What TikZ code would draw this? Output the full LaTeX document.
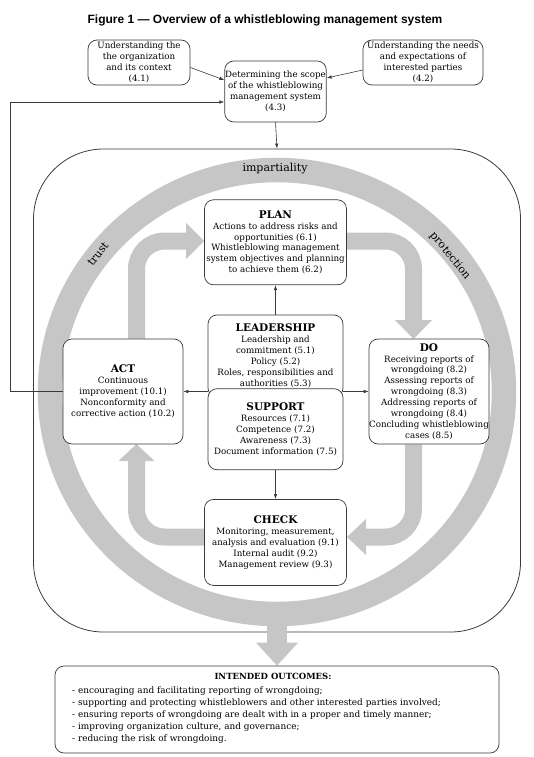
\documentclass[tikz,border=0pt]{standalone}
\usepackage{fontspec}
\setmainfont{DejaVu Serif}
\newfontfamily\titlefont{Liberation Sans}
\usetikzlibrary{positioning,arrows.meta,backgrounds}
\definecolor{ringgray}{HTML}{C6C6C6}
\definecolor{linegray}{HTML}{3A3A3A}
\newcommand\hdr[1]{{\fontsize{10.5}{12}\selectfont\bfseries #1}}

\begin{document}
\begin{tikzpicture}[x=1pt,y=-1pt,font=\fontsize{8.7}{10.9}\selectfont,
  box/.style={draw=linegray,line width=0.7pt,rounded corners=9pt,fill=white,align=center,inner sep=0.5pt},
  link/.style={draw=linegray,line width=0.6pt,-{Latex[length=5pt,width=3.5pt]}},
  band/.style={ringgray,line width=17pt,rounded corners=28pt}]
\useasboundingbox (0,0) rectangle (533,757);
\node[font=\titlefont\bfseries\fontsize{12}{14}\selectfont] (title) at (265,20) {Figure 1 — Overview of a whistleblowing management system};

% frame and ring
\begin{scope}[on background layer]
\node[draw=linegray,line width=0.8pt,rounded corners=70pt,minimum width=487pt,minimum height=483pt] (sys) at (277,390.5) {};
\draw[ringgray,line width=24.5pt] (277,392) ellipse [x radius=227pt,y radius=222pt];
\end{scope}
\node[font=\fontsize{11}{13}\selectfont] (imp) at (275,169) {impartiality};
\node[font=\fontsize{11}{13}\selectfont,rotate=52] (trust) at (98,254) {trust};
\node[font=\fontsize{11}{13}\selectfont,rotate=-51] (prot) at (450,256) {protection};

% context
\node[box,minimum width=102pt,minimum height=45pt] (t41) at (139,62.5) {Understanding the\\the organization\\and its context\\(4.1)};
\node[box,minimum width=120pt,minimum height=45pt] (t42) at (423,62.5) {Understanding the needs\\and expectations of\\interested parties\\(4.2)};
\node[box,minimum width=101pt,minimum height=61pt] (t43) at (275.5,91.5) {Determining the scope\\of the whistleblowing\\management system\\(4.3)};

% cycle
\node[box,minimum width=135pt,minimum height=82pt] (lead) at (275.5,356) {\hdr{LEADERSHIP}\\Leadership and\\commitment (5.1)\\Policy (5.2)\\Roles, responsibilities and\\authorities (5.3)};
\node[box,minimum width=135pt,minimum height=81pt,below=-9pt of lead] (supp) {\hdr{SUPPORT}\\Resources (7.1)\\Competence (7.2)\\Awareness (7.3)\\Document information (7.5)};
\node[box,minimum width=142pt,minimum height=85pt,above=29.5pt of lead] (plan) {\hdr{PLAN}\\Actions to address risks and\\opportunities (6.1)\\Whistleblowing management\\system objectives and planning\\to achieve them (6.2)};
\node[box,minimum width=142pt,minimum height=86pt,below=29pt of supp] (check) {\hdr{CHECK}\\Monitoring, measurement,\\analysis and evaluation (9.1)\\Internal audit (9.2)\\Management review (9.3)};
\node[box,minimum width=120pt,minimum height=105pt] (act) at (123,391.5) {\hdr{ACT}\\Continuous\\improvement (10.1)\\Nonconformity and\\corrective action (10.2)};
\node[box,minimum width=120pt,minimum height=105pt,inner sep=0pt] (do) at (429,391.5) {\hdr{DO}\\Receiving reports of\\wrongdoing (8.2)\\Assessing reports of\\wrongdoing (8.3)\\Addressing reports of\\wrongdoing (8.4)\\Concluding whistleblowing\\cases (8.5)};

% outcomes
\node[box,minimum width=444pt,minimum height=87pt] (outc) at (277,709.5) {};
\node[font=\fontsize{8.5}{10}\selectfont\bfseries] (outh) at (273,676) {INTENDED OUTCOMES:};
\node[align=left,anchor=west,inner sep=0pt,font=\fontsize{8.9}{12}\selectfont] (outl) at (72,715) {- encouraging and facilitating reporting of wrongdoing;\\- supporting and protecting whistleblowers and other interested parties involved;\\- ensuring reports of wrongdoing are dealt with in a proper and timely manner;\\- improving organization culture, and governance;\\- reducing the risk of wrongdoing.};

% gray cycle arrows
\begin{scope}[on background layer]
\draw[band] (act.north -| 136.5,0) |- (187,241);
\fill[ringgray] (186,223) -- (204,241) -- (186,259) -- cycle;
\draw[band] (plan.east |- 0,241) -| (413.5,321);
\fill[ringgray] (395,320) -- (413.5,339) -- (432,320) -- cycle;
\draw[band] (do.south -| 413.5,0) |- (365,537);
\fill[ringgray] (366,519) -- (347,537) -- (366,555) -- cycle;
\draw[band] (check.west |- 0,537) -| (136.5,460);
\fill[ringgray] (118.5,461) -- (136.5,444) -- (154.5,461) -- cycle;
\draw[ringgray,line width=20pt] ([yshift=52pt]outc.north) -- ([yshift=22pt]outc.north);
\fill[ringgray] ([xshift=-21pt,yshift=23pt]outc.north) -- ([xshift=21pt,yshift=23pt]outc.north) -- (outc.north) -- cycle;
\end{scope}

% black arrows
\draw[link] ([yshift=-5pt]t41.east) -- ([yshift=11.5pt]t43.west);
\draw[link] ([yshift=-7.5pt]t42.west) -- ([yshift=13.5pt]t43.east);
\draw[link] (t43.south) -- (sys.north);
\draw[link] (lead.north) -- (plan.south);
\draw[link] (supp.south) -- (check.north);
\draw[link] (lead.west |- act.east) -- (act.east);
\draw[link] (lead.east |- do.west) -- (do.west);
\draw[link] (act.west) -- (act.west -| 10,0) |- ([yshift=-10.5pt]t43.west);
\end{tikzpicture}
\end{document}
